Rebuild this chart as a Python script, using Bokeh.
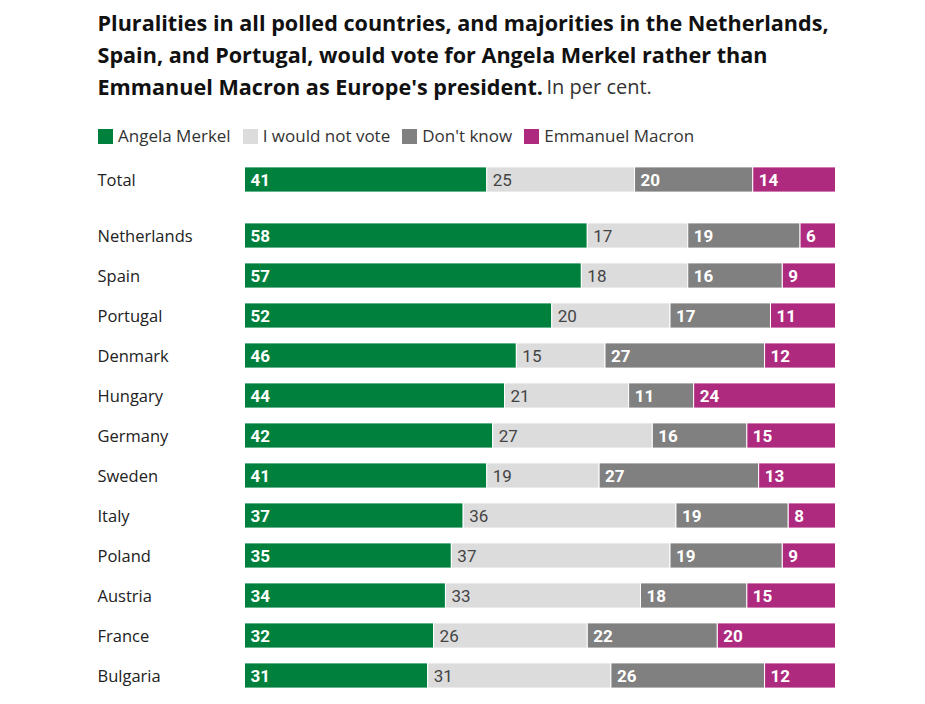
from bokeh.plotting import figure
from bokeh.models import ColumnDataSource, Range1d, Legend, LegendItem
from bokeh.core.properties import value
from bokeh.embed import file_html
from bokeh.resources import INLINE

countries = ["Total", "Netherlands", "Spain", "Portugal", "Denmark", "Hungary", "Germany",
             "Sweden", "Italy", "Poland", "Austria", "France", "Bulgaria"]
merkel = [41, 58, 57, 52, 46, 44, 42, 41, 37, 35, 34, 32, 31]
notvote = [25, 17, 18, 20, 15, 21, 27, 19, 36, 37, 33, 26, 31]
dontknow = [20, 19, 16, 17, 27, 11, 16, 27, 19, 19, 18, 22, 26]
macron = [14, 6, 9, 11, 12, 24, 15, 13, 8, 9, 15, 20, 12]

series_names = ["Angela Merkel", "I would not vote", "Don't know", "Emmanuel Macron"]
series_vals = [merkel, notvote, dontknow, macron]
colors = ["#00803d", "#dcdcdc", "#808080", "#ae2a7f"]
label_colors = ["white", "#444444", "white", "white"]
label_styles = ["bold", "normal", "bold", "bold"]

# layout: page pixels -> data
PX_PER_UNIT_X = 5.91
ROW_PX = 40.0
BAR_LEFT_PX = 244
TOTAL_ROW_PX = 179
FIG_W, FIG_H = 917, 700


def dx(page_x):
    return (page_x - BAR_LEFT_PX) / PX_PER_UNIT_X


def dy(page_y):
    return (page_y - TOTAL_ROW_PX) / ROW_PX


# row positions: Total, then a gap, then countries
ypos = [0.0] + [1.4 + i for i in range(len(countries) - 1)]

p = figure(width=FIG_W, height=FIG_H, output_backend="svg", toolbar_location=None,
           x_range=Range1d(dx(0), dx(FIG_W)), y_range=Range1d(dy(FIG_H), dy(0)),
           min_border=0, min_border_left=0, min_border_right=0,
           min_border_top=0, min_border_bottom=0)
p.axis.visible = False
p.grid.visible = False
p.outline_line_color = None
p.background_fill_color = "white"
p.border_fill_color = "white"

renderers = []
lx, ly, lt, lc, ls = [], [], [], [], []
left = [0] * len(countries)
for name, vals, col, tcol, tsty in zip(series_names, series_vals, colors, label_colors, label_styles):
    right = [l + v for l, v in zip(left, vals)]
    src = ColumnDataSource(dict(y=ypos, left=left, right=right))
    r = p.hbar(y="y", left="left", right="right", height=0.63, source=src,
               fill_color=col, line_color="white", line_width=1)
    renderers.append(r)
    for yy, l, v in zip(ypos, left, vals):
        lx.append(l)
        ly.append(yy)
        lt.append(str(v))
        lc.append(tcol)
        ls.append(tsty)
    left = right

lsrc = ColumnDataSource(dict(x=lx, y=ly, text=lt, color=lc, style=ls))
p.text(x="x", y="y", text="text", source=lsrc, x_offset=6, text_color="color",
       text_font_style="style", text_font=value("Roboto"), text_font_size="17px",
       text_baseline="middle", text_align="left")

csrc = ColumnDataSource(dict(x=[dx(97)] * len(countries), y=ypos, text=countries))
p.text(x="x", y="y", text="text", source=csrc, text_color="#222222",
       text_font=value("Open Sans"), text_font_size="16.5px", text_baseline="middle",
       text_align="left")

# title
title_lines = ["Pluralities in all polled countries, and majorities in the Netherlands,",
               "Spain, and Portugal, would vote for Angela Merkel rather than",
               "Emmanuel Macron as Europe's president."]
title_y = [22, 54, 86]
p.text(x=[dx(97)] * 3, y=[dy(v) for v in title_y], text=title_lines,
       text_color="#111111", text_font=value("Open Sans"), text_font_style="bold",
       text_font_size="21.6px", text_baseline="middle", text_align="left")
p.text(x=[dx(546)], y=[dy(86)], text=["In per cent."], text_color="#333333",
       text_font=value("Open Sans"), text_font_size="20px", text_baseline="middle",
       text_align="left")

legend = Legend(items=[LegendItem(label=n, renderers=[r]) for n, r in zip(series_names, renderers)],
                orientation="horizontal", location=(95, FIG_H - 147),
                glyph_width=20, glyph_height=20, label_standoff=3, spacing=9,
                padding=0, margin=0, border_line_color=None, background_fill_alpha=0,
                label_text_font="Open Sans", label_text_font_size="17px",
                label_text_color="#333333", label_height=20)
p.add_layout(legend)

open("out.html", "w").write(file_html(p, INLINE))
